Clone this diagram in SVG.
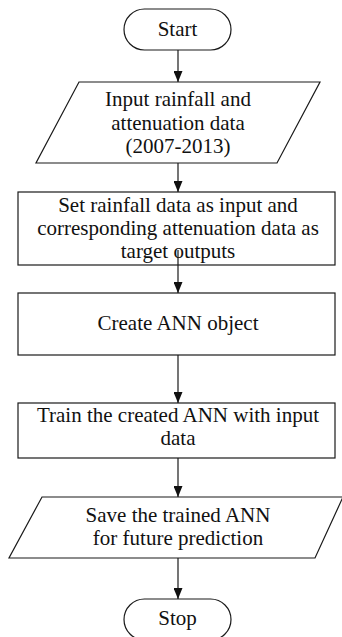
<svg xmlns="http://www.w3.org/2000/svg" width="342" height="637" viewBox="0 0 342 637">
<style>
.shape{fill:#fff;stroke:#1a1a1a;stroke-width:1.2}
.t{font-family:"Liberation Serif","Times New Roman",serif;font-size:21px;fill:#111;text-anchor:middle}
.c{stroke:#1a1a1a;stroke-width:1.2;fill:none;marker-end:url(#ah)}
</style>
<defs>
<marker id="ah" markerUnits="userSpaceOnUse" markerWidth="11" markerHeight="9" refX="11" refY="4.5" orient="auto">
<path d="M0,0 L11,4.5 L0,9 z" fill="#111"/>
</marker>
</defs>
<rect width="342" height="637" fill="#fff"/>
<g id="start">
<rect class="shape" x="124" y="9" width="107" height="41" rx="20.5"/>
<text class="t" x="177.5" y="36">Start</text>
</g>
<g id="input">
<polygon class="shape" points="79,82 320,82 277,163 36,163"/>
<text class="t" x="178" y="106">Input rainfall and</text>
<text class="t" x="178" y="130">attenuation data</text>
<text class="t" x="178" y="153">(2007-2013)</text>
</g>
<g id="set">
<rect class="shape" x="18" y="192" width="317" height="73"/>
<text class="t" x="178" y="212">Set rainfall data as input and</text>
<text class="t" x="178" y="235">corresponding attenuation data as</text>
<text class="t" x="178" y="258">target outputs</text>
</g>
<g id="create">
<rect class="shape" x="18" y="293" width="317" height="62"/>
<text class="t" x="178" y="330">Create ANN object</text>
</g>
<g id="train">
<rect class="shape" x="18" y="403" width="317" height="55"/>
<text class="t" x="178" y="422">Train the created ANN with input</text>
<text class="t" x="178" y="445">data</text>
</g>
<g id="save">
<polygon class="shape" points="42,497 343,497 315,558 9,558"/>
<text class="t" x="178" y="522">Save the trained ANN</text>
<text class="t" x="178" y="545">for future prediction</text>
</g>
<g id="stop">
<rect class="shape" x="124" y="599" width="107" height="41" rx="20.5"/>
<text class="t" x="177.5" y="625">Stop</text>
</g>
<g id="connectors">
<line class="c" x1="178" y1="50" x2="178" y2="82"/>
<line class="c" x1="178" y1="163" x2="178" y2="192"/>
<line class="c" x1="178" y1="250" x2="178" y2="293"/>
<line class="c" x1="178" y1="355" x2="178" y2="403"/>
<line class="c" x1="178" y1="458" x2="178" y2="497"/>
<line class="c" x1="178" y1="558" x2="178" y2="599"/>
</g>
</svg>
